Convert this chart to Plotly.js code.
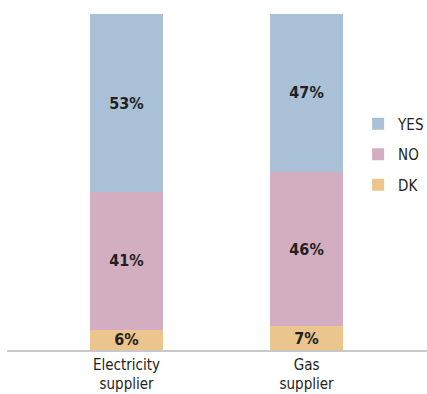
<!DOCTYPE html>
<html>
<head>
<meta charset="utf-8">
<script src="https://cdn.plot.ly/plotly-3.0.1.min.js"></script>
<style>
  html, body { margin: 0; padding: 0; background: #ffffff; }
  #chart { width: 427px; height: 394px; }
</style>
</head>
<body>
<div id="chart"></div>
<script>
// Supplier survey: share of answers per supplier type (percent)
const categories = ['Electricity<br>supplier', 'Gas<br>supplier'];
const yesValues = [53, 47];
const noValues = [41, 46];
const dkValues = [6, 7];

// stacked bottom-to-top; legend lists them top-to-bottom
const seriesNames = ['DK', 'NO', 'YES'];
const seriesValues = [dkValues, noValues, yesValues];
const seriesColors = ['#ebc48e', '#d3aec0', '#a9c0d6'];
const legendRanks = [3, 2, 1];

const FONT = 'DejaVu Sans Condensed, Liberation Sans Narrow, sans-serif';

const traces = seriesNames.map((name, i) => ({
  type: 'bar',
  name: name,
  legendgroup: name,
  legendrank: legendRanks[i],
  x: categories,
  y: seriesValues[i],
  marker: { color: seriesColors[i], line: { width: 0 } },
  width: 0.405,
  texttemplate: '%{y}%',
  textposition: 'inside',
  insidetextanchor: 'middle',
  constraintext: 'none',
  textangle: 0,
  textfont: { family: FONT, size: 16, color: '#231f20', weight: 'bold' },
  hoverinfo: 'skip'
}));

const layout = {
  width: 427,
  height: 394,
  margin: { l: 7, r: 0, t: 14, b: 44, autoexpand: false },
  paper_bgcolor: '#ffffff',
  plot_bgcolor: '#ffffff',
  barmode: 'stack',
  showlegend: true,
  legend: {
    x: 0.836, xanchor: 'left',
    y: 0.722, yanchor: 'top',
    traceorder: 'grouped',
    tracegroupgap: 8,
    font: { family: FONT, size: 15, color: '#231f20' },
    bgcolor: 'rgba(0,0,0,0)'
  },
  xaxis: {
    type: 'category',
    range: [-0.664, 1.669],
    showline: true,
    linecolor: '#c8c8c8',
    linewidth: 1.5,
    showgrid: false,
    zeroline: false,
    ticks: '',
    tickfont: { family: FONT, size: 15, color: '#231f20' },
    fixedrange: true
  },
  yaxis: {
    range: [0, 100],
    visible: false,
    showgrid: false,
    zeroline: false,
    fixedrange: true
  }
};

Plotly.newPlot('chart', traces, layout, { displayModeBar: false, staticPlot: true });
</script>
</body>
</html>
